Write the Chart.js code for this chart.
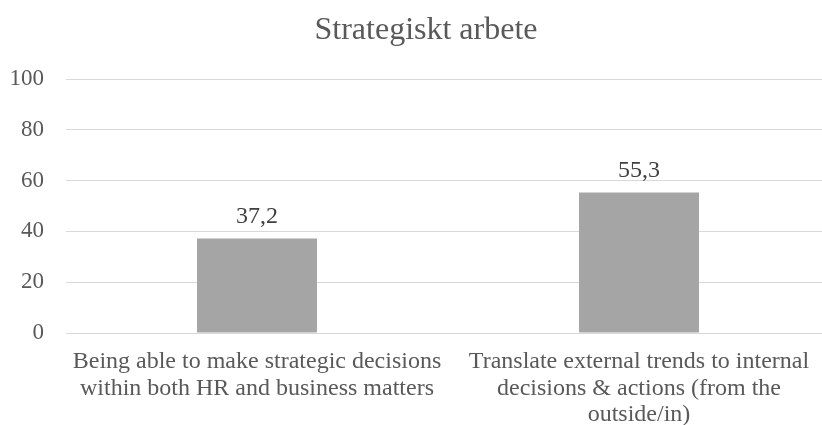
<!DOCTYPE html>
<html>
<head>
<meta charset="utf-8">
<script src="https://cdn.jsdelivr.net/npm/chart.js@4/dist/chart.umd.min.js"></script>
<style>
  html, body { margin: 0; padding: 0; background: #fff; overflow: hidden; }
  /* the reference is cropped on the right, so the chart is a bit wider than the window */
  #wrap { width: 852px; height: 425px; }
</style>
</head>
<body>
<div id="wrap"><canvas id="strategyChart"></canvas></div>
<script>
// chart values
const categories = [
    ["Being able to make strategic decisions", "within both HR and business matters"],
    ["Translate external trends to internal", "decisions & actions (from the", "outside/in)"]
];
const scores = [37.2, 55.3];
const yTicks = [0, 20, 40, 60, 80, 100];

const textColor = "#595959";
const serif = "'Liberation Serif', 'Times New Roman', serif";

// draws the value above each bar, with a comma as decimal sign
const valueLabels = {
    id: "valueLabels",
    afterDatasetsDraw(chart) {
        const c = chart.ctx;
        const meta = chart.getDatasetMeta(0);
        c.save();
        c.font = "24px " + serif;
        c.fillStyle = "#404040";
        c.textAlign = "center";
        c.textBaseline = "alphabetic";
        meta.data.forEach((bar, i) => {
            c.fillText(scores[i].toFixed(1).replace(".", ","), bar.x, bar.y - 16);
        });
        c.restore();
    }
};

const ctx = document.getElementById("strategyChart").getContext("2d");
new Chart(ctx, {
    type: "bar",
    data: {
        labels: categories,
        datasets: [{
            data: scores,
            backgroundColor: "#a5a5a5",
            barPercentage: 0.314,
            categoryPercentage: 1
        }]
    },
    options: {
        responsive: true,
        maintainAspectRatio: false,
        animation: false,
        layout: { padding: 0 },
        plugins: {
            legend: { display: false },
            tooltip: { enabled: false },
            title: {
                display: true,
                text: "Strategiskt arbete",
                color: textColor,
                font: { family: serif, size: 32, weight: "normal", lineHeight: 1.2 },
                padding: { top: 11, bottom: 29.6 }
            }
        },
        scales: {
            x: {
                grid: { display: false },
                border: { display: false },
                ticks: {
                    color: textColor,
                    font: { family: serif, size: 24, lineHeight: 1.1 },
                    maxRotation: 0,
                    autoSkip: false,
                    padding: 8
                },
                afterFit(scale) { scale.height = 92; }
            },
            y: {
                min: 0,
                max: 100,
                afterBuildTicks(scale) { scale.ticks = yTicks.map(v => ({ value: v })); },
                grid: { color: "#d9d9d9", lineWidth: 1, drawTicks: false },
                border: { display: false },
                ticks: {
                    color: textColor,
                    font: { family: serif, size: 23 },
                    padding: 22
                },
                afterFit(scale) { scale.width = 66; }
            },
            // empty right margin so the title stays centred on the whole chart
            yRight: {
                position: "right",
                min: 0,
                max: 100,
                grid: { display: false },
                border: { display: false },
                ticks: { display: false },
                afterFit(scale) { scale.width = 22; }
            }
        }
    },
    plugins: [valueLabels]
});
</script>
</body>
</html>
